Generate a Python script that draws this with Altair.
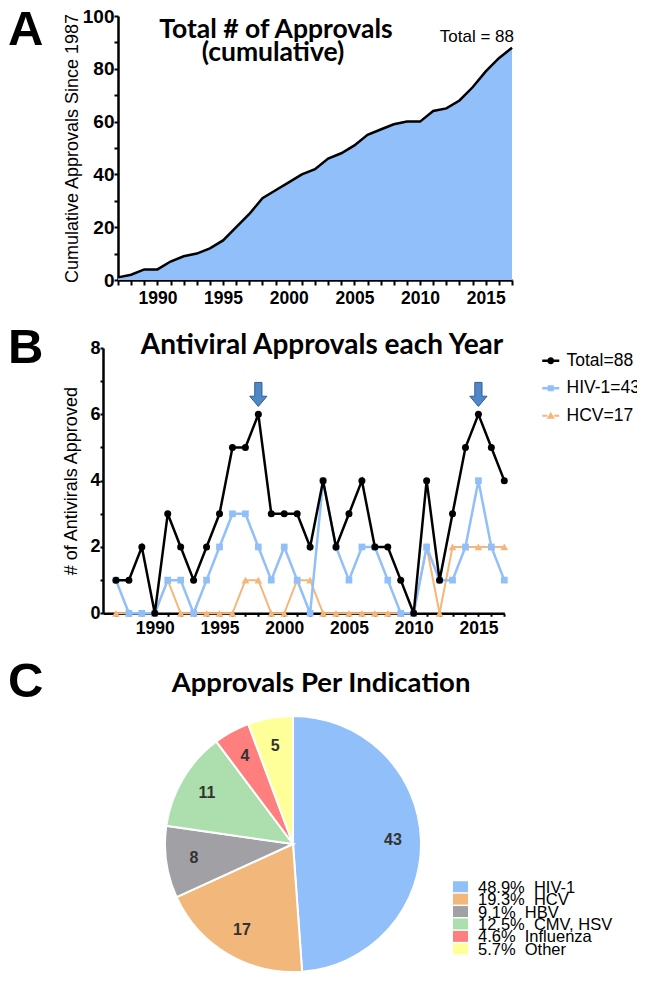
import altair as alt
import pandas as pd

# ---------------- data ----------------
years = list(range(1987, 2018))
cumulative = [1, 2, 4, 4, 7, 9, 10, 12, 15, 20, 25, 31, 34, 37, 40, 42, 46, 48,
              51, 55, 57, 59, 60, 60, 64, 65, 68, 73, 79, 84, 88]
total = [1, 1, 2, 0, 3, 2, 1, 2, 3, 5, 5, 6, 3, 3, 3, 2, 4, 2, 3, 4, 2, 2, 1, 0,
         4, 1, 3, 5, 6, 5, 4]
hiv = [1, 0, 0, 0, 1, 1, 0, 1, 2, 3, 3, 2, 1, 2, 1, 0, 4, 2, 1, 2, 2, 1, 0, 0,
       2, 1, 1, 2, 4, 2, 1]
hcv = [0, 0, 0, 0, 1, 0, 0, 0, 0, 0, 1, 1, 0, 0, 1, 1, 0, 0, 0, 0, 0, 0, 0, 0,
       2, 0, 2, 2, 2, 2, 2]
series_names = ["Total=88", "HIV-1=43", "HCV=17"]
series_colors = ["#000000", "#90bff9", "#f4b67a"]

arrow_years = [1998, 2015]
arrow_values = [6.6, 6.6]

indications = ["HIV-1", "HCV", "HBV", "CMV, HSV", "Influenza", "Other"]
counts = [43, 17, 8, 11, 4, 5]
percents = ["48.9%", "19.3%", "9.1%", "12.5%", "4.6%", "5.7%"]
pie_colors = ["#91bff9", "#f2b77b", "#a1a0a5", "#acdfad", "#ff7f7f", "#ffff99"]

# ---------------- layout helpers ----------------
OX, OY = 8, 8
W, H = 629, 975
def px(x):
    return x - OX
def py(y):
    return y - OY

FONT = "Liberation Sans"
TFONT = "Lato"

dfA = pd.DataFrame({"year": years, "cum": cumulative})
dfB = pd.DataFrame({
    "year": years * 3,
    "value": total + hiv + hcv,
    "series": [series_names[0]] * len(years) + [series_names[1]] * len(years) + [series_names[2]] * len(years),
})
dfArrow = pd.DataFrame({"year": arrow_years, "value": arrow_values})
dfPie = pd.DataFrame({
    "idx": list(range(len(indications))),
    "count": counts,
    "label": [f"{p}\u00a0\u00a0{n}" for p, n in zip(percents, indications)],
})

axis_common = dict(
    grid=False, domainColor="black", domainWidth=2.5, tickColor="black",
    tickWidth=2, labelFont=FONT, labelFontWeight="bold", labelColor="black",
    labelOverlap=False, labelFlush=False, titleFont=FONT, titleFontWeight="normal",
    titleColor="black",
)

# ---------------- panel A ----------------
xA = alt.X("year:Q",
           scale=alt.Scale(domain=[1987, 2017], range=[px(118), px(512)], nice=False, zero=False),
           axis=alt.Axis(orient="bottom", offset=py(280) - H, values=years, format="d",
                         labelExpr="datum.value % 5 === 0 ? datum.label : ''",
                         tickSize=5, labelPadding=4, labelFontSize=17.5, title=None, **axis_common))
yA = alt.Y("cum:Q",
           scale=alt.Scale(domain=[0, 100], range=[py(280), py(16)], nice=False),
           axis=alt.Axis(orient="left", offset=-px(118), values=list(range(0, 101, 10)),
                         labelExpr="datum.value % 20 === 0 ? datum.label : ''",
                         tickSize=4, labelPadding=0, labelFontSize=19,
                         title="Cumulative Approvals Since 1987", titleFontSize=18,
                         titlePadding=1, **axis_common))
areaA = alt.Chart(dfA).mark_area(
    color="#90bff9", opacity=1,
    line=alt.OverlayMarkDef(color="black", strokeWidth=2.5)
).encode(x=xA, y=yA)
panelA = alt.layer(areaA)

# ---------------- panel B ----------------
xB = alt.X("year:Q",
           scale=alt.Scale(domain=[1986, 2017], range=[px(103), px(504.3)], nice=False, zero=False),
           axis=alt.Axis(orient="bottom", offset=py(613.3) - H, values=years, format="d",
                         labelExpr="datum.value % 5 === 0 ? datum.label : ''",
                         tickSize=3, labelPadding=3, labelFontSize=17.5, title=None, **axis_common))
yB = alt.Y("value:Q",
           scale=alt.Scale(domain=[0, 8], range=[py(613.3), py(348)], nice=False),
           axis=alt.Axis(orient="left", offset=-px(103), values=list(range(0, 9)),
                         labelExpr="datum.value % 2 === 0 ? datum.label : ''",
                         tickSize=3, labelPadding=0, labelFontSize=18,
                         title="# of Antivirals Approved", titleFontSize=18,
                         titlePadding=9, **axis_common))

shapes = ["circle", "square", "triangle-up"]
sizes = [49, 45, 60]
widths = [2.5, 2.5, 2]
b_layers = []
for i in [2, 1, 0]:
    nm = series_names[i]
    base = alt.Chart(dfB).transform_filter(alt.datum.series == nm)
    b_layers.append(base.mark_line(color=series_colors[i], strokeWidth=widths[i]).encode(x=xB, y=yB))
    b_layers.append(base.mark_point(color=series_colors[i], filled=True, opacity=1,
                                    shape=shapes[i], size=sizes[i]).encode(x=xB, y=yB))

ARROW = "M-0.3,-1H0.3V0.15H0.72L0,1L-0.72,0.15H-0.3Z"
arrowB = alt.Chart(dfArrow).mark_point(
    shape=ARROW, size=576, filled=True, fill="#4f88c8", stroke="#2f5f93",
    strokeWidth=1, opacity=1
).encode(x=xB, y=yB)

LEG_PATHS = [
    "M-1,-0.15H-0.38V0.15H-1Z M0.38,-0.15H1V0.15H0.38Z M-0.41,0A0.41,0.41 0 1,1 0.41,0A0.41,0.41 0 1,1 -0.41,0Z",
    "M-1,-0.15H-0.34V0.15H-1Z M0.34,-0.15H1V0.15H0.34Z M-0.36,-0.36H0.36V0.36H-0.36Z",
    "M-1,-0.13H-0.4V0.13H-1Z M0.4,-0.13H1V0.13H0.4Z M0,-0.46L0.48,0.34H-0.48Z",
]
legB = dict(orient="none", legendX=px(542), legendY=py(361) - 9, direction="vertical",
            title=None, padding=0, symbolSize=289, labelFont=FONT, labelFontSize=17.5,
            labelColor="black", rowPadding=8.5, labelOffset=7, symbolStrokeWidth=0,
            labelLimit=200)
legendLayerB = alt.Chart(pd.DataFrame({"series": series_names})).transform_filter("false").mark_point(
    filled=True, opacity=1, size=289
).encode(
    color=alt.Color("series:N", scale=alt.Scale(domain=series_names, range=series_colors),
                    legend=alt.Legend(**legB)),
    shape=alt.Shape("series:N", scale=alt.Scale(domain=series_names, range=LEG_PATHS),
                    legend=alt.Legend(**legB)),
)
panelB = alt.layer(*b_layers, arrowB, legendLayerB)

# ---------------- panel C ----------------
RECT = "M-1,-0.73H1V0.73H-1Z"
cx, cy = px(293), py(844)
pie_color = alt.Color("label:N", sort=None,
                      scale=alt.Scale(domain=list(dfPie["label"]), range=pie_colors),
                      legend=None)
pie = alt.Chart(dfPie).mark_arc(outerRadius=128, stroke="white", strokeWidth=2).encode(
    theta=alt.Theta("count:Q", stack=True),
    order=alt.Order("idx:Q"),
    color=pie_color,
    x=alt.value(cx), y=alt.value(cy),
)
pieText = alt.Chart(dfPie).mark_text(radius=100, font=FONT, fontSize=16, fontWeight="bold",
                                     color="#333333").encode(
    theta=alt.Theta("count:Q", stack=True),
    order=alt.Order("idx:Q"),
    text="count:Q",
    x=alt.value(cx), y=alt.value(cy),
)
# legend for the pie: one row per indication, placed by a point scale
legY = alt.Y("label:N", sort=None,
             scale=alt.Scale(type="point", domain=list(dfPie["label"]),
                             range=[py(880.5), py(955)]),
             axis=None)
legSym = alt.Chart(dfPie).mark_point(shape=RECT, size=225, filled=True, opacity=1).encode(
    y=legY, color=pie_color, x=alt.value(px(460.5)))
legTxt = alt.Chart(dfPie).mark_text(align="left", baseline="middle", font=FONT, fontSize=16.5,
                                    color="black", dy=1).encode(
    y=legY, text="label:N", x=alt.value(px(478)))
panelC = alt.layer(pie, pieText, legSym, legTxt)

# ---------------- annotations ----------------
def label(txt, x, y, size, weight="bold", font=TFONT, align="center"):
    return alt.Chart(pd.DataFrame({"t": [txt]})).mark_text(
        font=font, fontSize=size, fontWeight=weight, align=align, baseline="alphabetic",
        color="black"
    ).encode(x=alt.value(px(x)), y=alt.value(py(y)), text="t:N")

texts = [
    label("A", 8, 45, 49, font=FONT, align="left"),
    label("B", 8, 363, 49, font=FONT, align="left"),
    label("C", 8, 697, 49, font=FONT, align="left"),
    label("Total # of Approvals", 276, 38, 26.5),
    label("(cumulative)", 273, 61, 26.5),
    label("Total = 88", 514, 41.7, 17, weight="normal", font=FONT, align="right"),
    label("Antiviral Approvals each Year", 322, 354, 28),
    label("Approvals Per Indication", 321, 692, 27.5),
]

chart = alt.layer(panelA, panelB, panelC, *texts).resolve_scale(
    x="independent", y="independent", color="independent", shape="independent",
    theta="independent",
).properties(
    width=W, height=H, autosize=alt.AutoSizeParams(type="none"), padding=0
).configure(
    font=FONT, view=alt.ViewConfig(stroke="transparent", strokeWidth=0)
)

chart.save("out.html", embed_options={"renderer": "svg", "actions": False})
